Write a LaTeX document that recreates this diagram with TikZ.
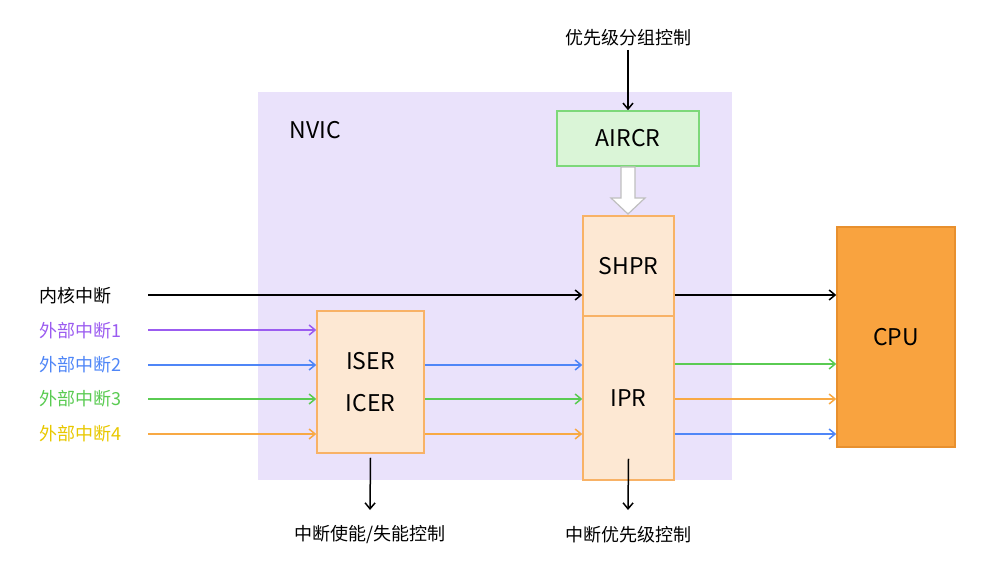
\documentclass[tikz,border=0pt]{standalone}
\usepackage{fontspec}
\setmainfont{Noto Sans CJK SC}
\usetikzlibrary{arrows.meta}
\definecolor{bgp}{HTML}{EAE2FB}
\definecolor{gfill}{HTML}{DAF5D7}
\definecolor{gline}{HTML}{7DD87A}
\definecolor{ofill}{HTML}{FDE8D3}
\definecolor{oline}{HTML}{F8B266}
\definecolor{cpuf}{HTML}{F9A33F}
\definecolor{cpul}{HTML}{E8902E}
\definecolor{cpur}{HTML}{9B5CF0}
\definecolor{cblu}{HTML}{4F86F7}
\definecolor{cgrn}{HTML}{5ACB52}
\definecolor{cora}{HTML}{F8A944}
\definecolor{cyel}{HTML}{E8C800}
\begin{document}
\begin{tikzpicture}[x=1pt,y=-1pt,
 box/.style={draw=oline,fill=ofill,line width=1.5pt,inner sep=0},
 lab/.style={font=\fontsize{18}{20}\selectfont},
 big/.style={font=\fontsize{23}{26}\selectfont},
 arr/.style={-{Straight Barb[length=6pt,width=10pt]},line width=1.5pt}]
\useasboundingbox (0,0) rectangle (988,564);
\fill[bgp] (258,92) rectangle (732,480);
\node[big,anchor=west] (nvic) at (286,130) {NVIC};
\node[draw=gline,fill=gfill,line width=1.5pt,minimum width=142pt,minimum height=55pt,big] (aircr) at (628,138.5) {AIRCR};
\node[lab] (top) at (628,38) {优先级分组控制};
\draw[arr] (top.south) -- (aircr.north);
\node[box,minimum width=91pt,minimum height=100pt,big] (shpr) at (628.5,266) {SHPR};
\node[box,minimum width=91pt,minimum height=164pt,big] (ipr) at (628.5,398) {IPR};
\node[box,minimum width=107pt,minimum height=142pt,big,align=center,font=\fontsize{23}{42}\selectfont] (iser) at (370.5,382) {ISER\\ICER};
\node[draw=cpul,fill=cpuf,line width=1.5pt,minimum width=118pt,minimum height=220pt,big] (cpu) at (896,337) {CPU};
% hollow arrow
\draw[gray!50,fill=white,line width=1.2pt] (621,167)--(635,167)--(635,198)--(645,198)--(628,214)--(611,198)--(621,198)--cycle;
\node[lab,anchor=west] (k) at (36,296) {内核中断};
\node[lab,anchor=west,text=cpur] (e1) at (36,331) {外部中断1};
\node[lab,anchor=west,text=cblu] (e2) at (36,365) {外部中断2};
\node[lab,anchor=west,text=cgrn] (e3) at (36,399) {外部中断3};
\node[lab,anchor=west,text=cyel] (e4) at (36,434) {外部中断4};
\coordinate (s) at (148,0);
\draw[arr] (148,295) -- (shpr.west|-0,295);
\draw[arr,cpur] (148,330) -- (iser.west|-0,330);
\draw[arr,cblu] (148,365) -- (iser.west|-0,365);
\draw[arr,cgrn] (148,399) -- (iser.west|-0,399);
\draw[arr,cora] (148,434) -- (iser.west|-0,434);
\draw[arr,cblu] (iser.east|-0,365) -- (ipr.west|-0,365);
\draw[arr,cgrn] (iser.east|-0,399) -- (ipr.west|-0,399);
\draw[arr,cora] (iser.east|-0,434) -- (ipr.west|-0,434);
\draw[arr] (shpr.east|-0,295) -- (cpu.west|-0,295);
\draw[arr,cgrn] (ipr.east|-0,364) -- (cpu.west|-0,364);
\draw[arr,cora] (ipr.east|-0,399) -- (cpu.west|-0,399);
\draw[arr,cblu] (ipr.east|-0,434) -- (cpu.west|-0,434);
\node[lab] (d1) at (370,535) {中断使能/失能控制};
\node[lab] (d2) at (628,535) {中断优先级控制};
\draw[arr] (iser.south)++(0,4) -- (370,510);
\draw[arr] (ipr.south)++(0,-22) -- (628,510);
\end{tikzpicture}
\end{document}
